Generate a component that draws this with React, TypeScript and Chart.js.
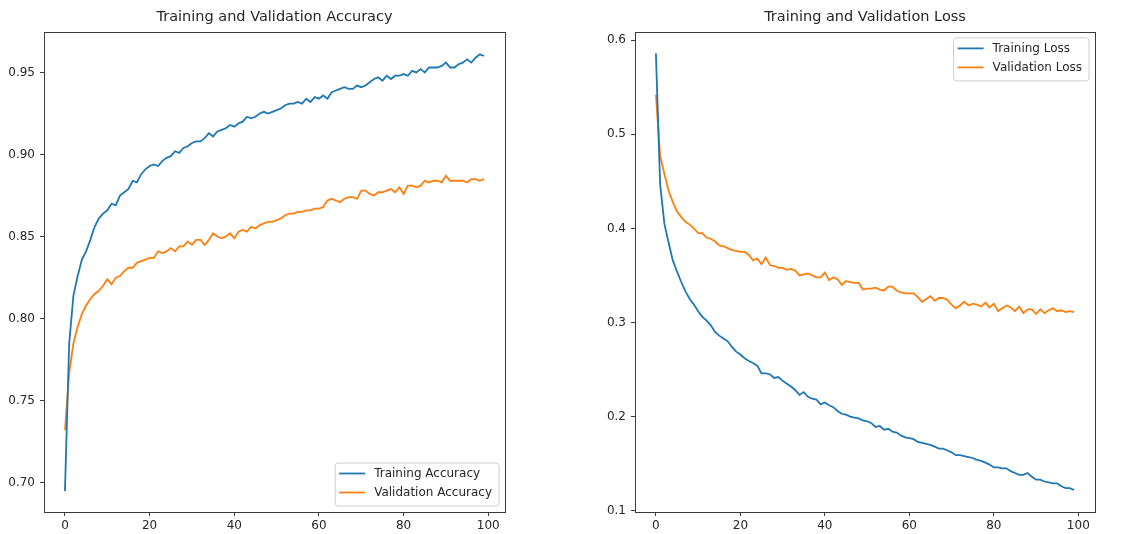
import React, { useEffect, useRef } from 'react';
import { Chart, registerables } from 'chart.js';

Chart.register(...registerables);

const EPOCHS = Array.from({ length: 100 }, (_, i) => i);

const TRAIN_ACC = [
  0.695, 0.785, 0.814, 0.826, 0.836, 0.841, 0.848, 0.856, 0.861, 0.864,
  0.866, 0.870, 0.869, 0.875, 0.877, 0.879, 0.884, 0.883, 0.888, 0.891,
  0.893, 0.894, 0.893, 0.896, 0.898, 0.899, 0.902, 0.901, 0.904, 0.905,
  0.907, 0.908, 0.908, 0.910, 0.913, 0.911, 0.914, 0.915, 0.916, 0.918,
  0.917, 0.919, 0.920, 0.923, 0.922, 0.923, 0.925, 0.926, 0.925, 0.926,
  0.927, 0.928, 0.930, 0.931, 0.931, 0.932, 0.931, 0.934, 0.932, 0.935,
  0.934, 0.936, 0.934, 0.938, 0.939, 0.940, 0.941, 0.940, 0.940, 0.942,
  0.941, 0.942, 0.944, 0.946, 0.947, 0.945, 0.948, 0.946, 0.948, 0.948,
  0.949, 0.948, 0.951, 0.950, 0.952, 0.950, 0.953, 0.953, 0.953, 0.954,
  0.956, 0.953, 0.953, 0.955, 0.956, 0.958, 0.956, 0.959, 0.961, 0.960,
];

const VAL_ACC = [
  0.732, 0.767, 0.785, 0.795, 0.803, 0.808, 0.812, 0.815, 0.817, 0.820,
  0.824, 0.821, 0.825, 0.826, 0.829, 0.831, 0.831, 0.834, 0.835, 0.836,
  0.837, 0.837, 0.841, 0.840, 0.841, 0.843, 0.841, 0.844, 0.844, 0.847,
  0.845, 0.848, 0.848, 0.845, 0.848, 0.852, 0.850, 0.849, 0.850, 0.852,
  0.849, 0.853, 0.854, 0.853, 0.856, 0.855, 0.857, 0.858, 0.859, 0.859,
  0.860, 0.861, 0.863, 0.864, 0.864, 0.865, 0.865, 0.866, 0.866, 0.867,
  0.867, 0.868, 0.872, 0.873, 0.872, 0.871, 0.873, 0.874, 0.874, 0.873,
  0.878, 0.878, 0.876, 0.875, 0.877, 0.877, 0.878, 0.879, 0.877, 0.880,
  0.876, 0.881, 0.881, 0.880, 0.881, 0.884, 0.883, 0.884, 0.884, 0.883,
  0.887, 0.884, 0.884, 0.884, 0.884, 0.883, 0.885, 0.885, 0.884, 0.885,
];

const TRAIN_LOSS = [
  0.586, 0.447, 0.405, 0.385, 0.366, 0.354, 0.343, 0.333, 0.325, 0.319,
  0.312, 0.306, 0.302, 0.297, 0.290, 0.286, 0.283, 0.280, 0.274, 0.269,
  0.266, 0.262, 0.259, 0.257, 0.254, 0.246, 0.246, 0.245, 0.241, 0.242,
  0.238, 0.235, 0.232, 0.228, 0.223, 0.226, 0.221, 0.219, 0.218, 0.213,
  0.215, 0.212, 0.210, 0.206, 0.203, 0.202, 0.200, 0.199, 0.198, 0.196,
  0.195, 0.193, 0.189, 0.190, 0.186, 0.187, 0.184, 0.183, 0.180, 0.178,
  0.177, 0.176, 0.173, 0.172, 0.171, 0.170, 0.168, 0.166, 0.166, 0.164,
  0.162, 0.159, 0.159, 0.158, 0.157, 0.156, 0.154, 0.153, 0.151, 0.149,
  0.146, 0.146, 0.145, 0.145, 0.142, 0.140, 0.138, 0.138, 0.140, 0.136,
  0.133, 0.133, 0.131, 0.130, 0.129, 0.129, 0.126, 0.124, 0.124, 0.122,
];

const VAL_LOSS = [
  0.542, 0.477, 0.458, 0.440, 0.428, 0.418, 0.412, 0.407, 0.404, 0.400,
  0.395, 0.395, 0.390, 0.389, 0.386, 0.382, 0.381, 0.379, 0.377, 0.376,
  0.375, 0.375, 0.372, 0.366, 0.368, 0.362, 0.369, 0.361, 0.360, 0.358,
  0.358, 0.356, 0.357, 0.355, 0.350, 0.351, 0.352, 0.350, 0.348, 0.348,
  0.353, 0.345, 0.348, 0.346, 0.340, 0.344, 0.343, 0.342, 0.342, 0.335,
  0.336, 0.336, 0.337, 0.335, 0.334, 0.338, 0.338, 0.334, 0.332, 0.331,
  0.331, 0.331, 0.327, 0.322, 0.325, 0.328, 0.323, 0.326, 0.326, 0.324,
  0.319, 0.315, 0.318, 0.322, 0.318, 0.320, 0.319, 0.317, 0.321, 0.316,
  0.320, 0.312, 0.315, 0.318, 0.316, 0.312, 0.317, 0.310, 0.314, 0.314,
  0.309, 0.314, 0.310, 0.313, 0.315, 0.312, 0.313, 0.311, 0.312, 0.311,
];

const X_TICKS = [0, 20, 40, 60, 80, 100];
const ACC_TICKS = [0.7, 0.75, 0.8, 0.85, 0.9, 0.95];
const LOSS_TICKS = [0.1, 0.2, 0.3, 0.4, 0.5, 0.6];

const BLUE = '#1f77b4';
const ORANGE = '#ff7f0e';
const FONT = "'DejaVu Sans', sans-serif";
const TEXT = '#262626';
const AXIS = '#3a3a3a';

type Entry = { label: string; color: string };

function decorPlugin(entries: Entry[], corner: 'br' | 'tr') {
  return {
    id: 'decor',
    afterDraw(chart: any) {
      const { ctx, chartArea: a } = chart;
      ctx.save();
      ctx.strokeStyle = AXIS;
      ctx.lineWidth = 1;
      const l = Math.round(a.left) + 0.5;
      const t = Math.round(a.top) + 0.5;
      const r = Math.round(a.right) + 0.5;
      const b = Math.round(a.bottom) + 0.5;
      ctx.strokeRect(l, t, r - l, b - t);
      ctx.font = `12px ${FONT}`;
      const tw = Math.max(...entries.map((e) => ctx.measureText(e.label).width));
      const w = 39 + tw + 7;
      const h = 43;
      const x = a.right - 6 - w;
      const y = corner === 'br' ? a.bottom - 6 - h : a.top + 6;
      const rad = 3;
      ctx.beginPath();
      ctx.moveTo(x + rad, y);
      ctx.lineTo(x + w - rad, y);
      ctx.arcTo(x + w, y, x + w, y + rad, rad);
      ctx.lineTo(x + w, y + h - rad);
      ctx.arcTo(x + w, y + h, x + w - rad, y + h, rad);
      ctx.lineTo(x + rad, y + h);
      ctx.arcTo(x, y + h, x, y + h - rad, rad);
      ctx.lineTo(x, y + rad);
      ctx.arcTo(x, y, x + rad, y, rad);
      ctx.closePath();
      ctx.fillStyle = 'rgba(255,255,255,0.8)';
      ctx.fill();
      ctx.strokeStyle = '#cccccc';
      ctx.lineWidth = 1;
      ctx.stroke();
      entries.forEach((e, k) => {
        const cy = y + 10.5 + k * 19;
        ctx.beginPath();
        ctx.strokeStyle = e.color;
        ctx.lineWidth = 1.8;
        ctx.moveTo(x + 4, cy);
        ctx.lineTo(x + 30, cy);
        ctx.stroke();
        ctx.fillStyle = TEXT;
        ctx.textAlign = 'left';
        ctx.textBaseline = 'middle';
        ctx.fillText(e.label, x + 39, cy);
      });
      ctx.restore();
    },
  };
}

function makeConfig(
  title: string,
  series: { label: string; data: number[]; color: string }[],
  yMin: number,
  yMax: number,
  yTicks: number[],
  decimals: number,
  yWidth: number,
  padRight: number,
  corner: 'br' | 'tr'
): any {
  return {
    type: 'line',
    data: {
      datasets: series.map((s) => ({
        label: s.label,
        data: EPOCHS.map((e, i) => ({ x: e, y: s.data[i] })),
        borderColor: s.color,
        backgroundColor: s.color,
        borderWidth: 1.8,
        pointRadius: 0,
        tension: 0,
        fill: false,
      })),
    },
    options: {
      responsive: false,
      animation: false,
      devicePixelRatio: 1,
      layout: { padding: { left: 0, right: padRight, top: 0, bottom: 0 } },
      plugins: {
        legend: { display: false },
        tooltip: { enabled: false },
        title: {
          display: true,
          text: title,
          fullSize: false,
          color: TEXT,
          font: { family: FONT, size: 14.5, weight: 'normal', lineHeight: 1.2 },
          padding: { top: 8.5, bottom: 6 },
        },
      },
      scales: {
        x: {
          type: 'linear',
          min: -4.95,
          max: 103.95,
          afterBuildTicks: (s: any) => {
            s.ticks = X_TICKS.map((v) => ({ value: v }));
          },
          afterFit: (s: any) => {
            s.height = 22;
          },
          grid: {
            display: true,
            drawOnChartArea: false,
            drawTicks: true,
            tickLength: 4,
            tickColor: AXIS,
            tickWidth: 1,
          },
          border: { display: false },
          ticks: {
            autoSkip: false,
            maxRotation: 0,
            padding: 3,
            color: TEXT,
            font: { family: FONT, size: 12 },
            callback: (v: any) => String(v),
          },
        },
        y: {
          type: 'linear',
          min: yMin,
          max: yMax,
          afterBuildTicks: (s: any) => {
            s.ticks = yTicks.map((v) => ({ value: v }));
          },
          afterFit: (s: any) => {
            s.width = yWidth;
          },
          grid: {
            display: true,
            drawOnChartArea: false,
            drawTicks: true,
            tickLength: 4,
            tickColor: AXIS,
            tickWidth: 1,
          },
          border: { display: false },
          ticks: {
            autoSkip: false,
            padding: 5,
            color: TEXT,
            font: { family: FONT, size: 12 },
            callback: (v: any) => Number(v).toFixed(decimals),
          },
        },
      },
    },
    plugins: [decorPlugin(series.map((s) => ({ label: s.label, color: s.color })), corner)],
  };
}

export default function App() {
  const leftRef = useRef<HTMLCanvasElement>(null);
  const rightRef = useRef<HTMLCanvasElement>(null);

  useEffect(() => {
    const left = new Chart(
      leftRef.current as HTMLCanvasElement,
      makeConfig(
        'Training and Validation Accuracy',
        [
          { label: 'Training Accuracy', data: TRAIN_ACC, color: BLUE },
          { label: 'Validation Accuracy', data: VAL_ACC, color: ORANGE },
        ],
        0.6822,
        0.9747,
        ACC_TICKS,
        2,
        44,
        60,
        'br'
      )
    );
    const right = new Chart(
      rightRef.current as HTMLCanvasElement,
      makeConfig(
        'Training and Validation Loss',
        [
          { label: 'Training Loss', data: TRAIN_LOSS, color: BLUE },
          { label: 'Validation Loss', data: VAL_LOSS, color: ORANGE },
        ],
        0.0986,
        0.6088,
        LOSS_TICKS,
        1,
        70,
        35,
        'tr'
      )
    );
    return () => {
      left.destroy();
      right.destroy();
    };
  }, []);

  return (
    <div
      style={{
        position: 'fixed',
        left: 0,
        top: 0,
        width: 1130,
        height: 534,
        background: '#ffffff',
      }}
    >
      <canvas
        ref={leftRef}
        width={565}
        height={534}
        style={{ position: 'absolute', left: 0, top: 0, width: 565, height: 534 }}
      />
      <canvas
        ref={rightRef}
        width={565}
        height={534}
        style={{ position: 'absolute', left: 565, top: 0, width: 565, height: 534 }}
      />
    </div>
  );
}
